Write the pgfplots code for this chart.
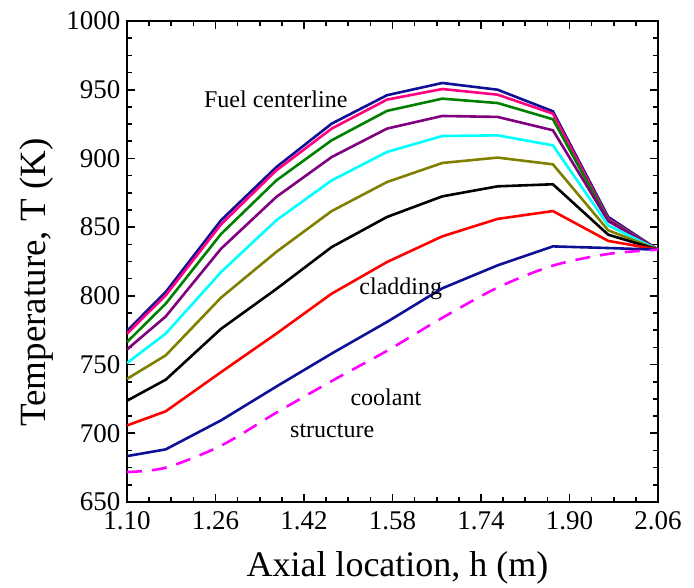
\documentclass[border=0pt]{standalone}
\usepackage{fontspec}
\setmainfont{Liberation Serif}
\usepackage{pgfplots}
\pgfplotsset{compat=1.18}

\definecolor{cnavy}{RGB}{16,16,150}
\definecolor{cpink}{RGB}{255,0,128}
\definecolor{cgreen}{RGB}{0,128,0}
\definecolor{cpurple}{RGB}{128,0,128}
\definecolor{ccyan}{RGB}{0,255,255}
\definecolor{colive}{RGB}{128,128,0}
\definecolor{cmag}{RGB}{255,0,255}

\begin{document}
\begin{tikzpicture}
\begin{axis}[
    scale only axis,
    width=531pt, height=481pt,
    xmin=1.10, xmax=2.06,
    ymin=650, ymax=1000,
    xtick={1.10,1.26,1.42,1.58,1.74,1.90,2.06},
    ytick={650,700,750,800,850,900,950,1000},
    minor tick num=3,
    tick align=inside,
    major tick length=8pt,
    minor tick length=5pt,
    every tick/.style={black, line width=1.6pt},
    axis line style={line width=2pt},
    xticklabel style={/pgf/number format/.cd, fixed, fixed zerofill, precision=2},
    yticklabel style={/pgf/number format/.cd, 1000 sep={}},
    /pgf/number format/assume math mode=true,
    ticklabel style={font=\fontsize{27}{27}\selectfont},
    xticklabel shift=6pt,
    yticklabel shift=3pt,
    xlabel={Axial location, h (m)},
    ylabel={Temperature, T (K)},
    xlabel style={font=\fontsize{36}{36}\selectfont, yshift=-15pt, xshift=5pt},
    ylabel style={font=\fontsize{37}{37}\selectfont, yshift=6pt, xshift=-21pt},
    every axis plot/.append style={line width=2.6pt},
    clip=true,
]
% fuel centerline
\addplot[cnavy] coordinates {(1.10,774.5) (1.17,802.8) (1.27,855) (1.37,893.7) (1.47,925.3) (1.57,946) (1.67,954.9) (1.77,950) (1.87,934.3) (1.97,857.4) (2.06,833.6)};
\addplot[cpink] coordinates {(1.10,772.5) (1.17,800.4) (1.27,852) (1.37,891.3) (1.47,921.7) (1.57,942.8) (1.67,950.5) (1.77,946.4) (1.87,932.6) (1.97,856) (2.06,833.6)};
\addplot[cgreen] coordinates {(1.10,766.4) (1.17,794.3) (1.27,845) (1.37,884) (1.47,913.2) (1.57,934.6) (1.67,943.5) (1.77,940.3) (1.87,928.5) (1.97,855) (2.06,833.6)};
\addplot[cpurple] coordinates {(1.10,761) (1.17,785) (1.27,834.3) (1.37,872) (1.47,901) (1.57,921.7) (1.67,930.9) (1.77,930.2) (1.87,920.5) (1.97,854.4) (2.06,833.6)};
\addplot[ccyan] coordinates {(1.10,751.1) (1.17,772.5) (1.27,817.3) (1.37,855) (1.47,884) (1.57,904.7) (1.67,916.3) (1.77,916.8) (1.87,909.5) (1.97,851.3) (2.06,833.6)};
\addplot[colive] coordinates {(1.10,739.6) (1.17,756.7) (1.27,798.7) (1.37,832) (1.47,861.7) (1.57,882.8) (1.67,896.7) (1.77,900.6) (1.87,895.7) (1.97,847.7) (2.06,833.6)};
\addplot[black] coordinates {(1.10,723.7) (1.17,739) (1.27,776) (1.37,805) (1.47,835.5) (1.57,857.4) (1.67,872.4) (1.77,879.7) (1.87,881.2) (1.97,844.5) (2.06,833.6)};
% cladding
\addplot[red] coordinates {(1.10,705.7) (1.17,716) (1.27,744.5) (1.37,772.5) (1.47,801.6) (1.57,824.6) (1.67,843.3) (1.77,856) (1.87,861.7) (1.97,840) (2.06,833.6)};
% structure
\addplot[cnavy] coordinates {(1.10,683.4) (1.17,688.3) (1.27,709.4) (1.37,734) (1.47,758) (1.57,781) (1.67,805.5) (1.77,822.2) (1.87,836) (1.97,834.8) (2.06,833.6)};
% coolant
\addplot[cmag, smooth, dash pattern=on 15pt off 10pt] coordinates {(1.10,671.8) (1.17,675) (1.27,691) (1.37,715) (1.47,738) (1.57,760) (1.67,784) (1.77,806) (1.87,822) (1.97,830.5) (2.06,833.6)};

\node[font=\fontsize{24}{24}\selectfont] at (axis cs:1.369,943) {Fuel centerline};
\node[font=\fontsize{24}{24}\selectfont] at (axis cs:1.595,805) {cladding};
\node[font=\fontsize{24}{24}\selectfont] at (axis cs:1.568,726) {coolant};
\node[font=\fontsize{24}{24}\selectfont] at (axis cs:1.471,702) {structure};
\end{axis}
\path ([xshift=-127pt,yshift=-81pt]current axis.south west) rectangle ([xshift=36pt,yshift=21pt]current axis.north east);
\end{tikzpicture}
\end{document}
